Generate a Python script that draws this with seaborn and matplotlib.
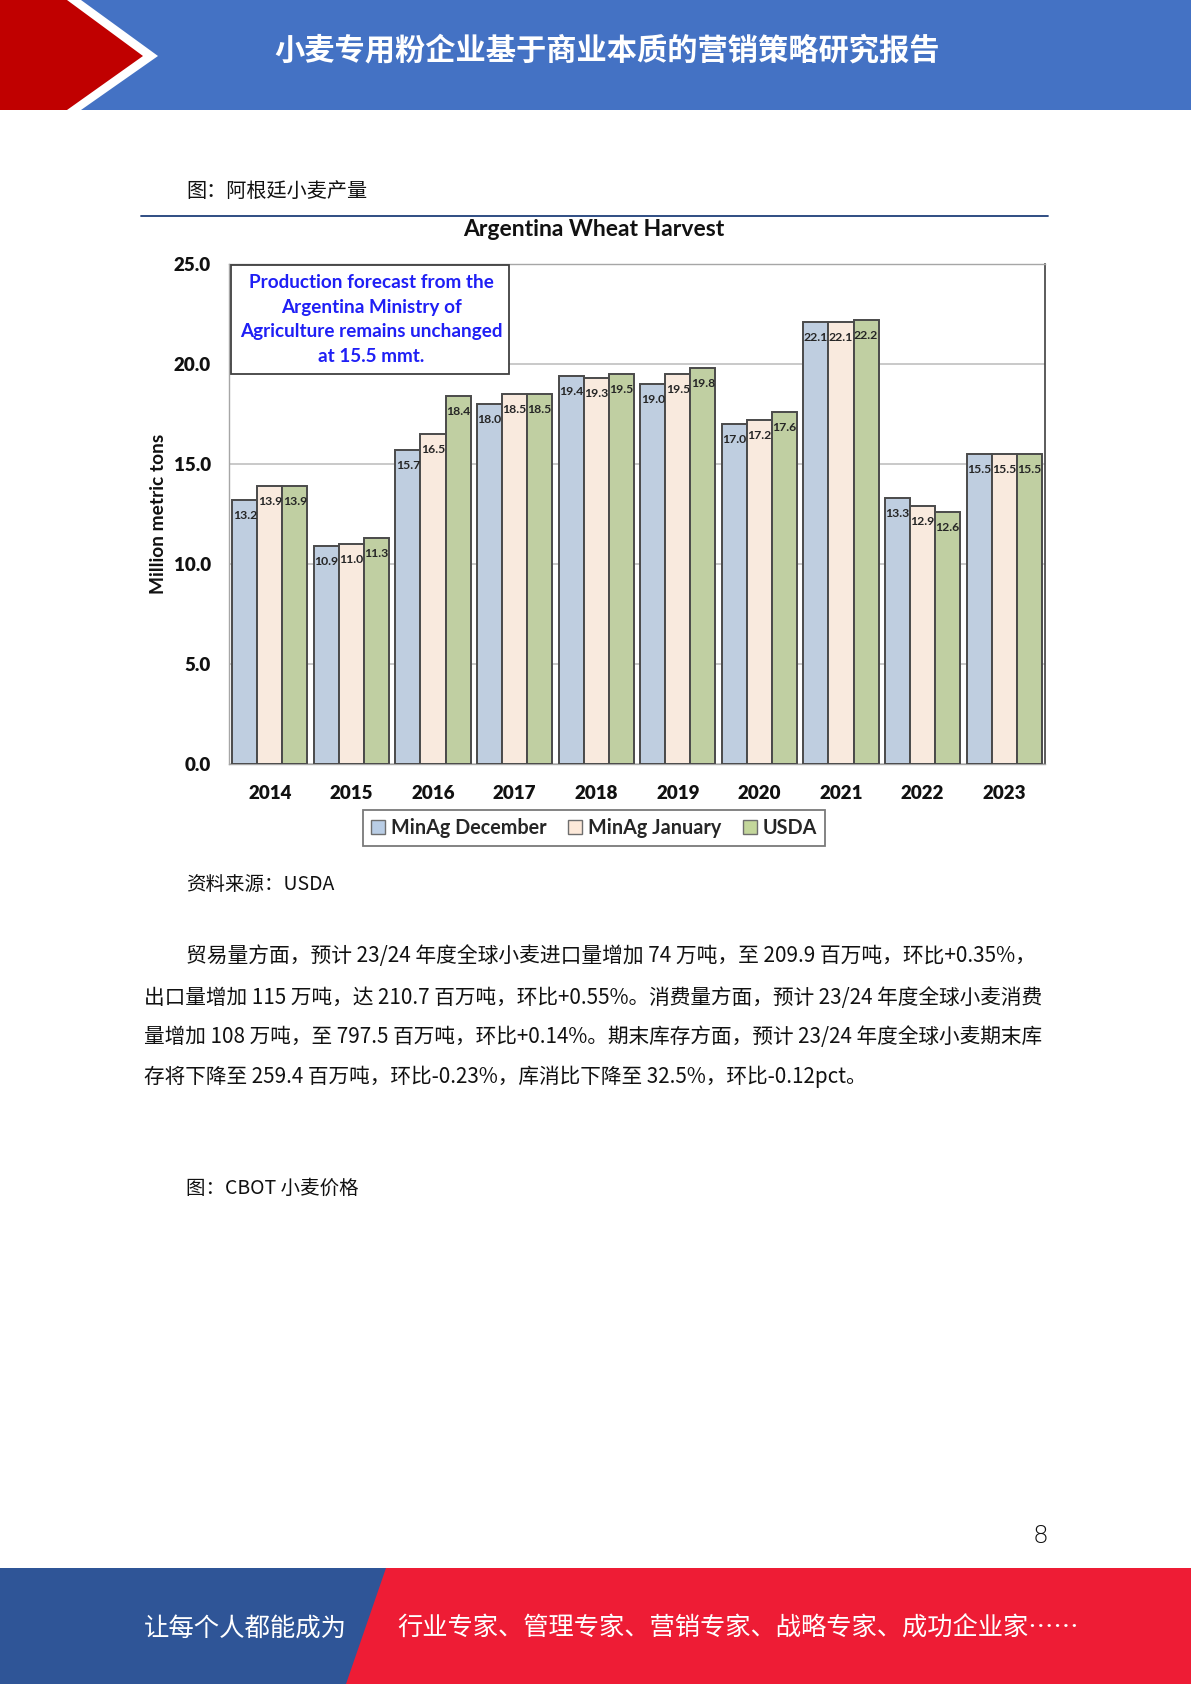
import matplotlib
matplotlib.use("Agg")
import matplotlib.pyplot as plt
import seaborn as sns
import pandas as pd
from matplotlib.patches import Polygon, Rectangle, Patch
from matplotlib.lines import Line2D

# ---------------- data ----------------
years = ["2014", "2015", "2016", "2017", "2018", "2019", "2020", "2021", "2022", "2023"]
series_names = ["MinAg December", "MinAg January", "USDA"]
minag_dec = [13.2, 10.9, 15.7, 18.0, 19.4, 19.0, 17.0, 22.1, 13.3, 15.5]
minag_jan = [13.9, 11.0, 16.5, 18.5, 19.3, 19.5, 17.2, 22.1, 12.9, 15.5]
usda = [13.9, 11.3, 18.4, 18.5, 19.5, 19.8, 17.6, 22.2, 12.6, 15.5]
y_ticks = [0.0, 5.0, 10.0, 15.0, 20.0, 25.0]

header_title = "小麦专用粉企业基于商业本质的营销策略研究报告"
fig_caption = "图：阿根廷小麦产量"
chart_title = "Argentina Wheat Harvest"
y_label = "Million metric tons"
note_lines = ["Production forecast from the", "Argentina Ministry of",
              "Agriculture remains unchanged", "at 15.5 mmt."]
source_text = "资料来源：USDA"
body_lines = [
    "贸易量方面，预计 23/24 年度全球小麦进口量增加 74 万吨，至 209.9 百万吨，环比+0.35%，",
    "出口量增加 115 万吨，达 210.7 百万吨，环比+0.55%。消费量方面，预计 23/24 年度全球小麦消费",
    "量增加 108 万吨，至 797.5 百万吨，环比+0.14%。期末库存方面，预计 23/24 年度全球小麦期末库",
    "存将下降至 259.4 百万吨，环比-0.23%，库消比下降至 32.5%，环比-0.12pct。",
]
caption2 = "图：CBOT 小麦价格"
page_no = "8"
footer_left = "让每个人都能成为"
footer_right = "行业专家、管理专家、营销专家、战略专家、成功企业家……"

df = pd.DataFrame({
    "year": years * 3,
    "source": [series_names[0]] * 10 + [series_names[1]] * 10 + [series_names[2]] * 10,
    "value": minag_dec + minag_jan + usda,
})

# ---------------- style ----------------
sns.set_theme(style="white")
CJK = ["Noto Sans CJK SC", "DejaVu Sans"]
LAT = ["Lato", "DejaVu Sans"]
plt.rcParams["font.family"] = CJK

W, H = 1191, 1684
fig = plt.figure(figsize=(W / 100, H / 100), dpi=100)
fig.patch.set_facecolor("white")


def fx(x):
    return x / W


def fy(y):
    return 1 - y / H


def poly(pts, color, z=0):
    fig.add_artist(Polygon([(fx(a), fy(b)) for a, b in pts], closed=True,
                           transform=fig.transFigure, facecolor=color,
                           edgecolor="none", zorder=z))


# header
poly([(0, 0), (W, 0), (W, 110), (0, 110)], "#4472C4", 0)
poly([(0, 0), (81, 0), (158, 56), (81, 110), (0, 110)], "white", 1)
poly([(0, 0), (67, 0), (143, 56), (67, 110), (0, 110)], "#C00000", 2)
fig.text(fx(607), fy(50), header_title, color="white", fontsize=21.8,
         fontweight="bold", ha="center", va="center", family=CJK, zorder=3)

# caption + rule
fig.text(fx(186), fy(191), fig_caption, fontsize=14.5, ha="left", va="center",
         family=CJK, color="#111111")
fig.add_artist(Line2D([fx(141), fx(1048)], [fy(216), fy(216)],
                      transform=fig.transFigure, color="#1F3F7A", lw=1.3))

# ---------------- chart ----------------
ax = fig.add_axes([fx(229), fy(764), fx(1045) - fx(229), (764 - 264) / H])
palette = ["#B9CDE5", "#FDE9D9", "#C3D69B"]
sns.barplot(data=df, x="year", y="value", hue="source", palette=palette,
            edgecolor="#4A4A4A", linewidth=1.4, width=0.92, ax=ax,
            legend=False, zorder=3)
for cont in ax.containers:
    ax.bar_label(cont, fmt="%.1f", padding=-15, fontsize=8.8, fontweight="bold",
                 color="#262626", family=LAT, zorder=4)

ax.set_ylim(0, 25)
ax.set_xlim(-0.5, 9.5)
ax.set_yticks(y_ticks)
ax.set_yticklabels([f"{v:.1f}" for v in y_ticks], fontsize=13.5,
                   fontweight="heavy", family=LAT, color="#111111")
ax.set_xticks(range(len(years)))
ax.set_xticklabels(years, fontsize=13.5, fontweight="heavy", family=LAT,
                   color="#111111")
ax.tick_params(axis="both", length=0)
ax.tick_params(axis="y", pad=13)
ax.tick_params(axis="x", pad=15)
ax.set_xlabel("")
ax.set_ylabel("")
ax.yaxis.grid(True, color="#C0C0C0", lw=1.2, zorder=0)
ax.set_axisbelow(True)
for s in ["left", "bottom", "top"]:
    ax.spines[s].set_color("#A6A6A6")
    ax.spines[s].set_linewidth(1.0)
ax.spines["right"].set_color("#404040")
ax.spines["right"].set_linewidth(1.2)

fig.text(fx(594), fy(229), chart_title, fontsize=16.5, fontweight="bold",
         ha="center", va="center", family=LAT, color="#111111")
fig.text(fx(159), fy(514), y_label, fontsize=13.8, fontweight="bold",
         rotation=90, ha="center", va="center", family=LAT, color="#111111")

# annotation box
fig.add_artist(Rectangle((fx(231), fy(374)), fx(509) - fx(231), (374 - 265) / H,
                         transform=fig.transFigure, facecolor="white",
                         edgecolor="#404040", lw=1.3, zorder=5))
for i, line in enumerate(note_lines):
    fig.text(fx(371), fy(282 + i * 25), line, fontsize=13.6, fontweight="bold",
             ha="center", va="center", family=LAT, color="#1F1FF5", zorder=6)

# legend
handles = [Patch(facecolor=c, edgecolor="#6E6E6E", lw=1.0) for c in palette]
leg = fig.legend(handles, series_names, loc="center",
                 bbox_to_anchor=(fx(594), fy(828)), ncol=3, frameon=True,
                 fancybox=False, prop={"family": LAT, "weight": "bold", "size": 14.2},
                 handlelength=0.7, handleheight=0.7, handletextpad=0.3,
                 columnspacing=1.1, borderpad=0.4)
leg.get_frame().set_edgecolor("#595959")
leg.get_frame().set_linewidth(1.3)

# ---------------- body text ----------------
fig.text(fx(186), fy(884), source_text, fontsize=14, ha="left", va="center",
         family=CJK, color="#111111")
body_y = [956, 998, 1037, 1077]
body_x = [186, 144, 144, 144]
body_right = [1040, 1046, 1046, None]
texts = []
for x, y, s in zip(body_x, body_y, body_lines):
    texts.append(fig.text(fx(x), fy(y), s, fontsize=14, ha="left", va="center",
                          family=CJK, color="#111111"))
fig.canvas.draw()
rend = fig.canvas.get_renderer()
last_size = 14
for t, x, r in zip(texts, body_x, body_right):
    if r is None:
        t.set_fontsize(last_size)
        continue
    w = t.get_window_extent(rend).width
    last_size = t.get_fontsize() * (r - x) / w
    t.set_fontsize(last_size)

fig.text(fx(186), fy(1188), caption2, fontsize=14, ha="left", va="center",
         family=CJK, color="#111111")

# page number
fig.text(fx(1041), fy(1536), page_no, fontsize=18, ha="center", va="center",
         family=["DejaVu Sans"], fontweight="light", color="#111111")

# footer
poly([(0, 1568), (W, 1568), (W, H), (0, H)], "#EE1C35", 0)
poly([(0, 1568), (386, 1568), (346, H), (0, H)], "#2F5597", 1)
fig.text(fx(144), fy(1629), footer_left, fontsize=18.3, ha="left", va="center",
         family=CJK, color="white", zorder=3)
fig.text(fx(397), fy(1629), footer_right, fontsize=18.2, ha="left", va="center",
         family=CJK, color="white", zorder=3)

fig.savefig("out.png", dpi=100, facecolor="white")
